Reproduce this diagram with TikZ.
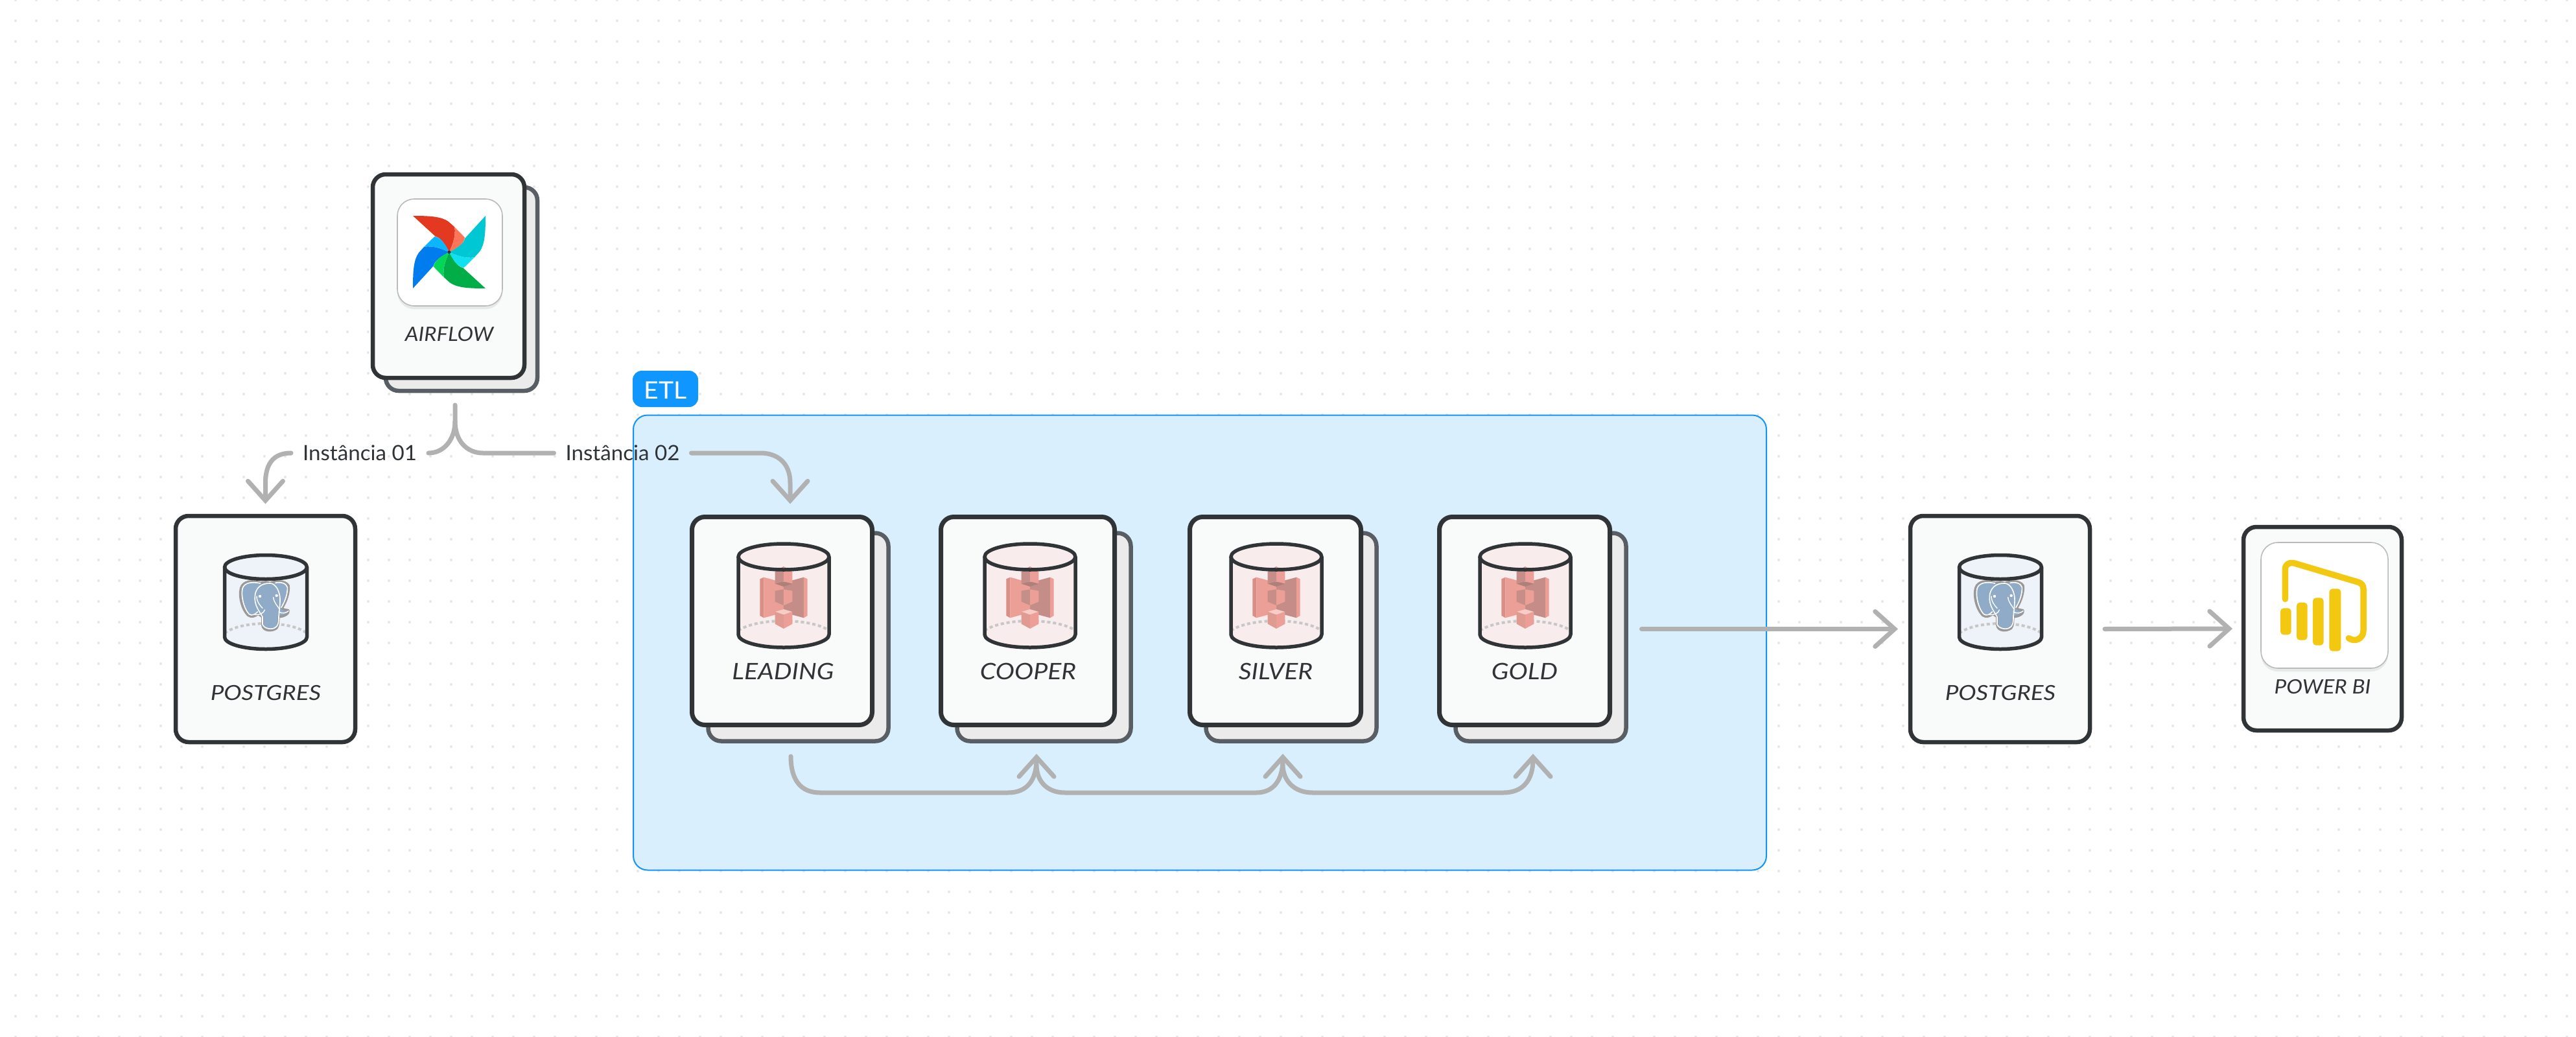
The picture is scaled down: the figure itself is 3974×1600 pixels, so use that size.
\documentclass[tikz,border=0pt]{standalone}
\usepackage{fontspec}
\setmainfont{Lato}
\usetikzlibrary{arrows.meta}
\definecolor{ink}{HTML}{303437}
\definecolor{backline}{HTML}{595E64}
\definecolor{backfill}{HTML}{EBEBEB}
\definecolor{cardfill}{HTML}{F9FBFA}
\definecolor{wire}{HTML}{B1B1B1}
\definecolor{dotc}{HTML}{E6E6E6}
\definecolor{etlfill}{HTML}{D9EFFE}
\definecolor{etlline}{HTML}{1195FB}
\definecolor{etltagc}{HTML}{1097FF}
\definecolor{pgfill}{HTML}{EEF2F9}
\definecolor{sfill}{HTML}{F8ECEC}
\definecolor{elephant}{HTML}{8FABC7}
\definecolor{pbi}{HTML}{F2C811}
\tikzset{
  frontcard/.style={draw=ink,fill=cardfill,line width=6.5pt,rounded corners=20pt,outer sep=0pt,inner sep=0pt},
  thickcard/.style={frontcard,line width=7pt},
  backcard/.style={draw=backline,fill=backfill,line width=6.5pt,rounded corners=20pt,outer sep=0pt,inner sep=0pt},
  cardtext/.style 2 args={text=ink,font=\fontsize{#1}{#1}\selectfont\itshape\addfontfeature{FakeStretch=#2},anchor=base,inner sep=0pt},
  wirelabel/.style={text=ink,font=\fontsize{32.5}{33}\selectfont\addfontfeature{FakeStretch=1.02},text height=23.5pt,text depth=0pt,inner xsep=18pt,inner ysep=0pt,outer sep=0pt},
  iconbox/.style={draw=black!27,fill=white,line width=1.6pt,rounded corners=26pt,outer sep=0pt,inner sep=0pt},
  conn/.style={draw=wire,line width=7pt,line cap=round,line join=round},
  tipped/.style={conn,-{Straight Barb[length=30pt,width=54pt,line cap=round,line join=miter]}},
  rim/.style={draw=ink,line width=5.5pt,line join=round},
  dotsarc/.style={draw=black!22,line width=4pt,dash pattern=on 5pt off 4pt},
  HTML/.code={\definecolor{tmpc}{HTML}{#1}\pgfkeysalso{color=tmpc}}
}
% name, x0, y0, x1, y1, style
\newcommand{\mybox}[6]{\node[#6,minimum width={(#4-#2)*1pt},minimum height={(#5-#3)*1pt}] (#1) at ({(#2+#4)/2},{(#3+#5)/2}) {};}
% cx, rx, cy, ry, side bottom, fill, content
\newcommand{\mycyl}[7]{%
  \fill[#6] ({#1-#2},#3) -- ({#1-#2},#5) arc[start angle=180,end angle=360,x radius=#2pt,y radius=#4pt] -- ({#1+#2},#3) -- cycle;
  \fill[#6] (#1,#3) ellipse[x radius=#2pt,y radius=#4pt];
  \draw[dotsarc] ({#1-#2},{#5-6}) .. controls ({#1-0.6*#2},{#5-26}) and ({#1+0.6*#2},{#5-26}) .. ({#1+#2},{#5-6});
  #7
  \draw[rim] ({#1-#2},#3) -- ({#1-#2},#5) arc[start angle=180,end angle=360,x radius=#2pt,y radius=#4pt] -- ({#1+#2},#3);
  \draw[rim] (#1,#3) ellipse[x radius=#2pt,y radius=#4pt];
}
\newcommand{\myelephant}[1]{%
  \begin{scope}[shift={({#1-120},820)},x=0.3333pt,y=-0.3333pt]
    \filldraw[fill=elephant,draw=black!40,line width=3.6pt,line join=round]
      (335,238) .. controls (300,225) and (255,228) .. (245,262)
      .. controls (235,300) and (250,360) .. (278,388)
      .. controls (295,400) and (310,392) .. (325,382)
      -- (345,395) -- (345,435)
      .. controls (348,460) and (385,465) .. (410,448)
      .. controls (420,435) and (418,415) .. (420,395)
      .. controls (445,395) and (470,380) .. (465,365)
      .. controls (450,362) and (440,362) .. (435,355)
      .. controls (455,325) and (470,280) .. (465,250)
      .. controls (450,225) and (400,228) .. (380,240)
      .. controls (365,232) and (350,235) .. (335,238) -- cycle;
    \draw[white,line width=1.6pt,line cap=round]
      (345,395) .. controls (330,370) and (306,340) .. (310,300)
      .. controls (312,262) and (340,238) .. (380,240)
      .. controls (400,240) and (420,265) .. (425,300)
      .. controls (428,320) and (425,345) .. (420,395)
      .. controls (420,420) and (418,440) .. (400,447)
      .. controls (385,455) and (352,450) .. (345,430) -- (345,395);
    \draw[white,line width=1.6pt,line cap=round]
      (335,240) .. controls (300,232) and (260,235) .. (252,265)
      .. controls (245,300) and (258,355) .. (282,382)
      .. controls (295,392) and (310,385) .. (322,372);
    \draw[white,line width=1.6pt,line cap=round]
      (405,238) .. controls (430,232) and (455,240) .. (460,258)
      .. controls (462,290) and (448,325) .. (432,352);
    \draw[white,line width=1.4pt,line cap=round]
      (310,385) .. controls (330,388) and (352,378) .. (355,363)
      (420,372) .. controls (435,382) and (455,378) .. (465,368)
      (395,305) .. controls (398,330) and (415,345) .. (422,358)
      (318,300) .. controls (318,325) and (335,345) .. (345,355);
    \fill[white] (333,300) circle[radius=2.2pt] (410,297) circle[radius=2.2pt];
  \end{scope}
}
\newcommand{\mysthree}[1]{%
  \begin{scope}[shift={({#1-169},780)},x=0.3333pt,y=-0.3333pt]
    \fill[HTML=D98E87] (397,340) -- (415,332) -- (415,520) -- (397,510) -- cycle;
    \fill[HTML=EB9F97] (415,332) -- (507,357) -- (507,495) -- (415,520) -- cycle;
    \fill[HTML=C48D88] (507,357) -- (600,332) -- (600,520) -- (507,495) -- cycle;
    \fill[HTML=EB9F97] (600,332) -- (617,340) -- (617,510) -- (600,520) -- cycle;
    \fill[HTML=C58E89] (467,305) -- (507,282) -- (507,352) -- (467,362) -- cycle;
    \fill[HTML=EB9F97] (507,282) -- (547,305) -- (547,362) -- (507,352) -- cycle;
    \fill[HTML=AF7F7A] (467,362) -- (507,352) -- (547,362) -- (507,375) -- cycle;
    \fill[HTML=C58E89] (467,395) -- (507,388) -- (507,462) -- (467,445) -- cycle;
    \fill[HTML=EB9F97] (507,388) -- (547,395) -- (547,445) -- (507,462) -- cycle;
    \fill[HTML=F7CCC6] (467,492) -- (507,480) -- (547,492) -- (507,505) -- cycle;
    \fill[HTML=DF9A92] (467,492) -- (507,505) -- (507,570) -- (467,548) -- cycle;
    \fill[HTML=EB9F97] (507,505) -- (547,492) -- (547,548) -- (507,570) -- cycle;
  \end{scope}
}
\newcommand{\myblade}[3]{%
  \begin{scope}[rotate=#1]
    \fill[HTML=#2] (-56,-56) .. controls (-30,-56) and (-12,-55) .. (-1,-47) -- (8.3,-38.7)
      .. controls (10.7,-24) and (4,-9) .. (0,0)
      .. controls (-5,-10) and (-13,-23) .. (-21,-24) -- cycle;
    \fill[HTML=#3] (8.3,-38.7) -- (24,-22.7)
      .. controls (23,-12) and (10,-5) .. (0,0)
      .. controls (4,-9) and (10.7,-24) .. (8.3,-38.7) -- cycle;
  \end{scope}
}
\begin{document}
\begin{tikzpicture}[x=1pt,y=-1pt]
\useasboundingbox (0,0) rectangle (3974,1600);
\fill[white] (0,0) rectangle (3974,1600);
% canvas dots
\foreach \i in {0,...,123}{\foreach \j in {0,...,50}{\fill[dotc] ({24+32*\i},{32*\j}) circle[radius=2pt];}}
% ETL group
\node[draw=etlline,fill=etlfill,line width=2pt,rounded corners=22pt,outer sep=0pt,inner sep=0pt,minimum width=1748pt,minimum height=702pt] (etl) at (1851,991.5) {};
\node[fill=etltagc,rounded corners=14pt,minimum width=101pt,minimum height=56pt,inner sep=0pt] (etltag) at (1026.5,600) {};
\node[text=white,font=\fontsize{37}{37}\selectfont\addfontfeature{FakeStretch=1.06},anchor=base,inner sep=0pt] (etltext) at (1026.5,615) {ETL};
% Airflow
\mybox{airflowback}{595}{289}{829}{603}{backcard}
\mybox{airflow}{575}{269}{809}{583}{frontcard}
\fill[black,opacity=.07,rounded corners=26pt] (613,312) rectangle (775,477);
\mybox{airflowicon}{613}{307}{775}{472}{iconbox}
\begin{scope}[shift={(693,389)}]
  \myblade{0}{E43921}{FF7557}
  \myblade{90}{017CEE}{0CB6FF}
  \myblade{180}{00AD46}{04D659}
  \myblade{270}{00C7D4}{11E1EE}
  \fill[ink] (0,0) circle[radius=2.5pt];
\end{scope}
\node[cardtext={30.5}{1.08}] (airflowtext) at (693,526) {AIRFLOW};
% Postgres left
\mybox{pgleft}{271}{796}{548}{1145}{frontcard}
\mycyl{410}{63.5}{875}{18.5}{983}{pgfill}{\myelephant{410}}
\node[cardtext={32}{1.147}] (pglefttext) at (410,1080.5) {POSTGRES};
% Leading
\mybox{leadingback}{1092.5}{822.5}{1370.5}{1143.5}{backcard}
\mybox{leading}{1067.5}{797.5}{1345.5}{1118.5}{thickcard}
\mycyl{1209}{70}{859}{20}{979}{sfill}{\mysthree{1209}}
\node[cardtext={35}{1.12}] (leadingtext) at (1208,1048) {LEADING};
% Cooper
\mybox{cooperback}{1476.5}{822.5}{1744.5}{1143.5}{backcard}
\mybox{cooper}{1451.5}{797.5}{1719.5}{1118.5}{thickcard}
\mycyl{1589}{70}{859}{20}{979}{sfill}{\mysthree{1589}}
\node[cardtext={35}{1.12}] (coopertext) at (1586,1048) {COOPER};
% Silver
\mybox{silverback}{1860.5}{822.5}{2123.5}{1143.5}{backcard}
\mybox{silver}{1835.5}{797.5}{2099.5}{1118.5}{thickcard}
\mycyl{1969}{70}{859}{20}{979}{sfill}{\mysthree{1969}}
\node[cardtext={35}{1.12}] (silvertext) at (1968,1048) {SILVER};
% Gold
\mybox{goldback}{2245.5}{822.5}{2508.5}{1143.5}{backcard}
\mybox{gold}{2220.5}{797.5}{2483.5}{1118.5}{thickcard}
\mycyl{2353}{70}{859}{20}{979}{sfill}{\mysthree{2353}}
\node[cardtext={35}{1.12}] (goldtext) at (2352,1048) {GOLD};
% Postgres right
\mybox{pgright}{2947}{796}{3224}{1145}{frontcard}
\mycyl{3086}{63.5}{875}{18.5}{983}{pgfill}{\myelephant{3086}}
\node[cardtext={32}{1.147}] (pgrighttext) at (3086,1080.5) {POSTGRES};
% Power BI
\mybox{powerbi}{3461}{813}{3705}{1127}{frontcard}
\fill[black,opacity=.07,rounded corners=26pt] (3488,842) rectangle (3684,1036);
\mybox{powerbiicon}{3488}{837}{3684}{1031}{iconbox}
\begin{scope}[shift={(3420,790)},x=0.3333pt,y=-0.3333pt]
  \draw[pbi,line width=9.5pt,line cap=round,line join=round]
    (316,403) -- (316,265) .. controls (316,242) and (335,232) .. (355,236)
    -- (655,325) .. controls (670,330) and (678,340) .. (678,355)
    -- (678,550) .. controls (678,585) and (640,605) .. (610,584);
  \fill[pbi,rounded corners=5pt] (294,445) rectangle (344,568);
  \fill[pbi,rounded corners=5pt] (369,419) rectangle (419,593);
  \fill[pbi,rounded corners=5pt] (444,397) rectangle (494,617);
  \fill[pbi,rounded corners=5pt] (520,355) rectangle (574,644);
\end{scope}
\node[cardtext={30.5}{1.09}] (powerbitext) at (3583,1070) {POWER BI};
% Connector labels
\node[wirelabel] (lblone) at (555,699) {Instância 01};
\node[wirelabel] (lbltwo) at (960.5,699) {Instância 02};
% Connectors
\coordinate (branch) at ([xshift=-10pt,yshift=-22pt]airflowback.south);
\coordinate (fork) at (702,650);
\draw[conn] (branch) -- (fork) .. controls (702,678) and (685,699) .. (lblone.east);
\draw[conn] (fork) .. controls (702,680) and (720,699) .. (745,699) -- (lbltwo.west);
\draw[tipped] (lblone.west) .. controls (425,699) and (409.5,712) .. (409.5,745) -- ([yshift=18.5pt]pgleft.north);
\draw[tipped] (lbltwo.east) -- (1173,699) .. controls (1200,699) and (1219,715) .. (1219,745) -- ([xshift=12.5pt,yshift=20pt]leading.north);
\coordinate (lstart) at ([xshift=-11.5pt,yshift=-23.5pt]leadingback.south);
\coordinate (ctip) at ([xshift=-11.5pt,yshift=-19.5pt]cooperback.south);
\coordinate (stip) at ([xshift=-13pt,yshift=-19.5pt]silverback.south);
\coordinate (gtip) at ([xshift=-12pt,yshift=-19.5pt]goldback.south);
\draw[tipped] (lstart) .. controls (1220,1203) and (1235,1223) .. (1265,1223) -- (1555,1223) .. controls (1585,1223) and (1599,1203) .. (ctip);
\draw[tipped] (1599,1180) .. controls (1599,1203) and (1613,1223) .. (1643,1223) -- (1938,1223) .. controls (1965,1223) and (1979,1203) .. (stip);
\draw[tipped] (1979,1180) .. controls (1979,1203) and (1995,1223) .. (2025,1223) -- (2319,1223) .. controls (2350,1223) and (2365,1203) .. (gtip);
\draw[tipped] ([xshift=24pt]goldback.east |- pgright.west) -- ([xshift=-19pt]pgright.west);
\draw[tipped] ([xshift=23pt]pgright.east) -- ([xshift=-17pt]powerbi.west);
\end{tikzpicture}
\end{document}
